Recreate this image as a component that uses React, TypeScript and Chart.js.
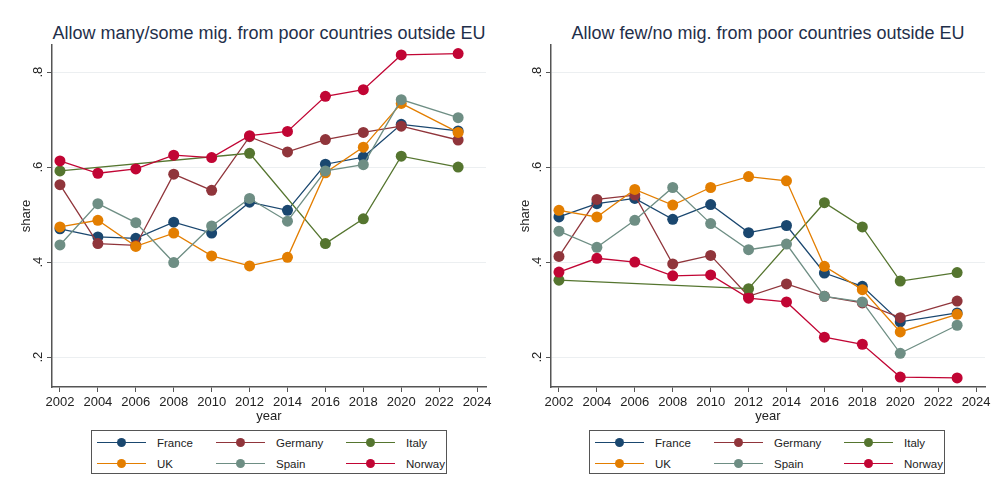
import React, { useEffect, useRef } from "react";
import { Chart, registerables } from "chart.js";

Chart.register(...registerables);

const FONT = "'Liberation Sans', Arial, Helvetica, sans-serif";

const years = [2002, 2004, 2006, 2008, 2010, 2012, 2014, 2016, 2018, 2020, 2023];
const xTicks = [2002, 2004, 2006, 2008, 2010, 2012, 2014, 2016, 2018, 2020, 2022, 2024];
const yTicks = [0.2, 0.4, 0.6, 0.8];
const yTickLabels = [".2", ".4", ".6", ".8"];
const countries = ["France", "Germany", "Italy", "UK", "Spain", "Norway"];
const colors = ["#1a476f", "#90353b", "#55752f", "#e37e00", "#6e8e84", "#c10534"];

const leftTitle = "Allow many/some mig. from poor countries outside EU";
const rightTitle = "Allow few/no mig. from poor countries outside EU";

// Left panel: allow many/some
const leftFrance = [0.470, 0.453, 0.450, 0.484, 0.461, 0.526, 0.509, 0.606, 0.621, 0.690, 0.676];
const leftGermany = [0.563, 0.439, 0.435, 0.585, 0.551, 0.664, 0.632, 0.658, 0.673, 0.686, 0.657];
const leftItaly = [0.592, null, null, null, null, 0.629, null, 0.439, 0.491, 0.623, 0.600];
const leftUK = [0.474, 0.488, 0.433, 0.461, 0.413, 0.392, 0.410, 0.588, 0.642, 0.734, 0.673];
const leftSpain = [0.436, 0.523, 0.483, 0.399, 0.476, 0.534, 0.486, 0.592, 0.605, 0.742, 0.704];
const leftNorway = [0.613, 0.587, 0.596, 0.625, 0.620, 0.666, 0.675, 0.749, 0.763, 0.836, 0.839];

// Right panel: allow few/no
const rightFrance = [0.495, 0.523, 0.534, 0.490, 0.521, 0.462, 0.477, 0.377, 0.349, 0.274, 0.293];
const rightGermany = [0.412, 0.532, 0.541, 0.396, 0.414, 0.328, 0.354, 0.328, 0.314, 0.283, 0.318];
const rightItaly = [0.362, null, null, null, null, 0.344, null, 0.525, 0.474, 0.360, 0.378];
const rightUK = [0.509, 0.495, 0.553, 0.520, 0.557, 0.580, 0.571, 0.391, 0.342, 0.253, 0.290];
const rightSpain = [0.465, 0.431, 0.488, 0.557, 0.481, 0.426, 0.438, 0.328, 0.316, 0.208, 0.267];
const rightNorway = [0.379, 0.408, 0.400, 0.371, 0.373, 0.324, 0.316, 0.242, 0.227, 0.158, 0.156];

const leftSeries = [leftFrance, leftGermany, leftItaly, leftUK, leftSpain, leftNorway];
const rightSeries = [rightFrance, rightGermany, rightItaly, rightUK, rightSpain, rightNorway];

const CANVAS_W = 500;
const CANVAS_H = 427;

const yLabelPlugin = {
  id: "yRotLabels",
  afterDraw(chart: any) {
    const s = chart.scales.y;
    const ctx = chart.ctx;
    ctx.save();
    ctx.fillStyle = "#222";
    ctx.font = `13px ${FONT}`;
    ctx.textAlign = "center";
    ctx.textBaseline = "alphabetic";
    yTicks.forEach((v, i) => {
      const y = s.getPixelForValue(v);
      ctx.save();
      ctx.translate(s.right - 10, y);
      ctx.rotate(-Math.PI / 2);
      ctx.fillText(yTickLabels[i], 0, 0);
      ctx.restore();
    });
    ctx.restore();
  },
};

function makeConfig(series: (number | null)[][]): any {
  return {
    type: "line",
    data: {
      datasets: countries.map((c, i) => ({
        label: c,
        data: years
          .map((yr, j) => ({ x: yr, y: series[i][j] }))
          .filter((p) => p.y !== null),
        borderColor: colors[i],
        backgroundColor: colors[i],
        pointBackgroundColor: colors[i],
        pointBorderColor: colors[i],
        pointRadius: 5.5,
        pointBorderWidth: 0,
        borderWidth: 1.3,
        tension: 0,
        order: countries.length - i,
      })),
    },
    options: {
      responsive: false,
      animation: false,
      layout: { padding: { top: 45, right: 14, left: 0, bottom: 0 } },
      plugins: {
        legend: { display: false },
        tooltip: { enabled: false },
        title: { display: false },
      },
      scales: {
        x: {
          type: "linear",
          min: 2001.58,
          max: 2024.47,
          afterBuildTicks: (s: any) => {
            s.ticks = xTicks.map((v) => ({ value: v }));
          },
          afterFit: (s: any) => {
            s.height = 40;
          },
          ticks: {
            color: "#222",
            font: { family: FONT, size: 13 },
            padding: 3,
            maxRotation: 0,
            minRotation: 0,
            autoSkip: false,
            callback: (v: any) => String(v),
          },
          grid: {
            drawOnChartArea: false,
            drawTicks: true,
            tickLength: 5,
            tickColor: "#555",
            tickWidth: 1,
          },
          border: { display: true, color: "#555", width: 1.5 },
          title: {
            display: true,
            text: "year",
            color: "#222",
            font: { family: FONT, size: 13 },
            padding: { top: 0, bottom: 3 },
          },
        },
        y: {
          type: "linear",
          min: 0.137,
          max: 0.857,
          afterBuildTicks: (s: any) => {
            s.ticks = yTicks.map((v) => ({ value: v }));
          },
          afterFit: (s: any) => {
            s.width = 52;
          },
          ticks: { display: false },
          grid: {
            drawOnChartArea: true,
            color: "#eceff1",
            lineWidth: 1,
            drawTicks: true,
            tickLength: 5,
            tickColor: "#555",
            tickWidth: 1,
          },
          border: { display: true, color: "#555", width: 1.5 },
          title: {
            display: true,
            text: "share",
            color: "#222",
            font: { family: FONT, size: 13 },
            padding: { top: 19, bottom: 0 },
          },
        },
      },
    },
    plugins: [yLabelPlugin],
  };
}

function Legend({ left }: { left: number }) {
  const colStarts = [5, 124, 254];
  const rowCenters = [12, 33];
  return (
    <div
      style={{
        position: "absolute",
        left,
        top: 430,
        width: 354,
        height: 42,
        border: "1px solid #555",
        background: "#fff",
      }}
    >
      {countries.map((c, i) => {
        const col = i % 3;
        const row = Math.floor(i / 3);
        const x0 = colStarts[col];
        const yc = rowCenters[row];
        return (
          <React.Fragment key={c}>
            <div
              style={{
                position: "absolute",
                left: x0,
                top: yc - 1,
                width: 49,
                height: 1.3,
                background: colors[i],
              }}
            />
            <div
              style={{
                position: "absolute",
                left: x0 + 24.5 - 4.5,
                top: yc - 5,
                width: 9,
                height: 9,
                borderRadius: "50%",
                background: colors[i],
              }}
            />
            <div
              style={{
                position: "absolute",
                left: x0 + 60,
                top: yc - 8,
                height: 16,
                lineHeight: "16px",
                fontFamily: FONT,
                fontSize: 11.5,
                color: "#222",
                whiteSpace: "nowrap",
              }}
            >
              {c}
            </div>
          </React.Fragment>
        );
      })}
    </div>
  );
}

function Panel({ left, title, series }: { left: number; title: string; series: (number | null)[][] }) {
  const ref = useRef<HTMLCanvasElement | null>(null);
  useEffect(() => {
    if (!ref.current) return;
    const chart = new Chart(ref.current, makeConfig(series));
    return () => chart.destroy();
  }, [series]);
  return (
    <>
      <div
        style={{
          position: "absolute",
          left: left + 52,
          top: 23,
          width: 434,
          textAlign: "center",
          fontFamily: FONT,
          fontSize: 18,
          lineHeight: "20px",
          color: "#1f2f4a",
          whiteSpace: "nowrap",
        }}
      >
        {title}
      </div>
      <canvas
        ref={ref}
        width={CANVAS_W}
        height={CANVAS_H}
        style={{ position: "absolute", left, top: 0, width: CANVAS_W, height: CANVAS_H }}
      />
    </>
  );
}

export default function App() {
  return (
    <div
      style={{
        position: "fixed",
        left: 0,
        top: 0,
        width: 1000,
        height: 496,
        background: "#fff",
        overflow: "hidden",
      }}
    >
      <Panel left={0} title={leftTitle} series={leftSeries} />
      <Panel left={499} title={rightTitle} series={rightSeries} />
      <Legend left={91} />
      <Legend left={589} />
    </div>
  );
}
